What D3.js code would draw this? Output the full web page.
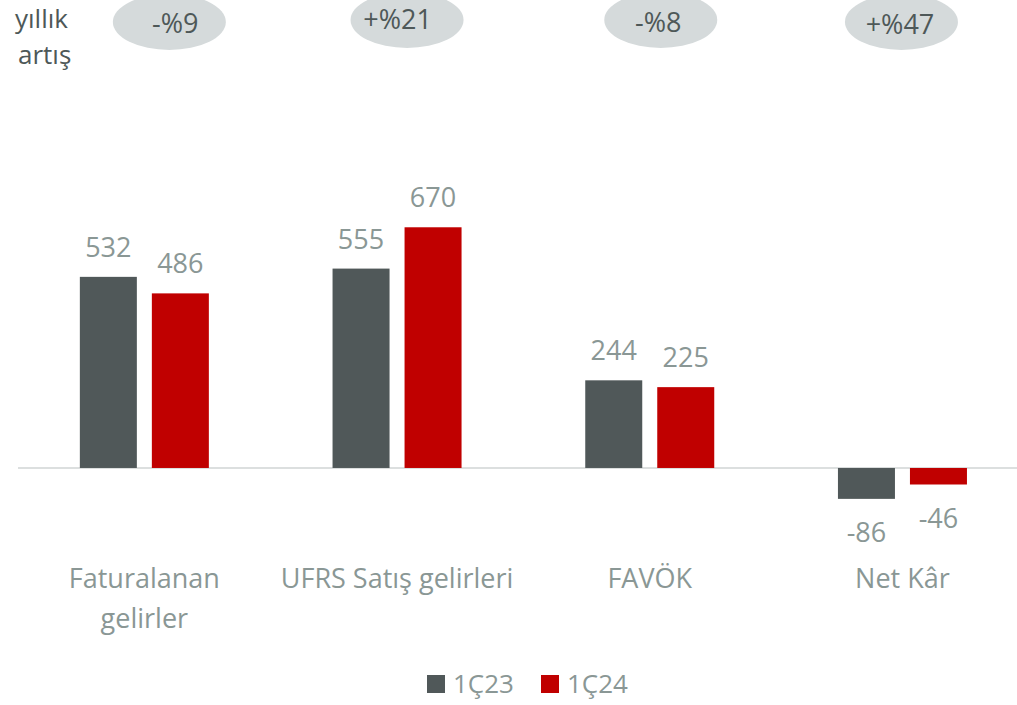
<!DOCTYPE html>
<html>
<head>
<meta charset="utf-8">
<script src="https://cdn.jsdelivr.net/npm/d3@7"></script>
<style>
  body { margin: 0; background: #fff; }
  svg text { font-family: "Open Sans", sans-serif; }
</style>
</head>
<body>
<svg id="chart" width="1017" height="705"></svg>
<script>
const categories = ["Faturalanan gelirler", "UFRS Satış gelirleri", "FAVÖK", "Net Kâr"];
const categoryLines = [["Faturalanan", "gelirler"], ["UFRS Satış gelirleri"], ["FAVÖK"], ["Net Kâr"]];
const seriesNames = ["1Ç23", "1Ç24"];
const values1Q23 = [532, 555, 244, -86];
const values1Q24 = [486, 670, 225, -46];
const growth = ["-%9", "+%21", "-%8", "+%47"];

const colors = { "1Ç23": "#505859", "1Ç24": "#c00000" };
const labelColor = "#8a9795";
const darkText = "#4e5858";

const svg = d3.select("#chart");

const x = d3.scaleBand().domain(categories).range([18, 18 + 4 * 252.7]).padding(0);
const xs = d3.scaleBand().domain(seriesNames).range([0, x.bandwidth()])
  .paddingInner(0.2083).paddingOuter(0.859);
const y = d3.scaleLinear().domain([-100, 700]).range([503.9, 216.5]);

const rows = categories.map((c, i) => ({
  cat: c,
  vals: [
    { s: "1Ç23", v: values1Q23[i] },
    { s: "1Ç24", v: values1Q24[i] }
  ]
}));

// zero line
svg.append("line")
  .attr("x1", 18).attr("x2", 1017)
  .attr("y1", y(0)).attr("y2", y(0))
  .attr("stroke", "#dcdfdf").attr("stroke-width", 2);

const groups = svg.selectAll("g.grp").data(rows).join("g")
  .attr("class", "grp")
  .attr("transform", d => `translate(${x(d.cat)},0)`);

groups.selectAll("rect").data(d => d.vals).join("rect")
  .attr("x", d => xs(d.s))
  .attr("width", xs.bandwidth())
  .attr("y", d => y(Math.max(0, d.v)))
  .attr("height", d => Math.abs(y(d.v) - y(0)))
  .attr("fill", d => colors[d.s]);

groups.selectAll("text.val").data(d => d.vals).join("text")
  .attr("class", "val")
  .attr("x", d => xs(d.s) + xs.bandwidth() / 2)
  .attr("y", d => d.v >= 0 ? y(d.v) - 20 : y(d.v) + 43)
  .attr("text-anchor", "middle")
  .attr("font-size", 27)
  .attr("fill", labelColor)
  .text(d => d.v);

// category labels
groups.append("text")
  .attr("x", x.bandwidth() / 2)
  .attr("y", 588)
  .attr("text-anchor", "middle")
  .attr("font-size", 27)
  .attr("fill", labelColor)
  .selectAll("tspan").data((d, i) => categoryLines[i]).join("tspan")
  .attr("x", x.bandwidth() / 2)
  .attr("dy", (d, i) => i === 0 ? 0 : 40)
  .text(d => d);

// yearly growth bubbles
const bubbleOffsets = [
  { ex: 25, ey: 22, tx: 31, ty: 33 },
  { ex: 10, ey: 20, tx: 0.5, ty: 29 },
  { ex: 11, ey: 20, tx: 8.5, ty: 32 },
  { ex: -1, ey: 22, tx: -2.5, ty: 34 }
];
categories.forEach((c, i) => {
  const cx = x(c) + x.bandwidth() / 2;
  const o = bubbleOffsets[i];
  svg.append("ellipse")
    .attr("cx", cx + o.ex).attr("cy", o.ey)
    .attr("rx", 56.5).attr("ry", 28)
    .attr("fill", "#d5dadb");
  svg.append("text")
    .attr("x", cx + o.tx).attr("y", o.ty)
    .attr("text-anchor", "middle")
    .attr("font-size", 27)
    .attr("fill", darkText)
    .text(growth[i]);
});

svg.append("text")
  .attr("x", 15).attr("y", 28)
  .attr("font-size", 26)
  .attr("fill", darkText)
  .text("yıllık");
svg.append("text")
  .attr("x", 18).attr("y", 64)
  .attr("font-size", 26)
  .attr("fill", darkText)
  .text("artış");

// legend
const legendX = [427, 541];
seriesNames.forEach((s, i) => {
  svg.append("rect")
    .attr("x", legendX[i]).attr("y", 675)
    .attr("width", 18).attr("height", 18)
    .attr("fill", colors[s]);
  svg.append("text")
    .attr("x", legendX[i] + 26).attr("y", 693)
    .attr("font-size", 26)
    .attr("fill", labelColor)
    .text(s);
});
</script>
</body>
</html>
